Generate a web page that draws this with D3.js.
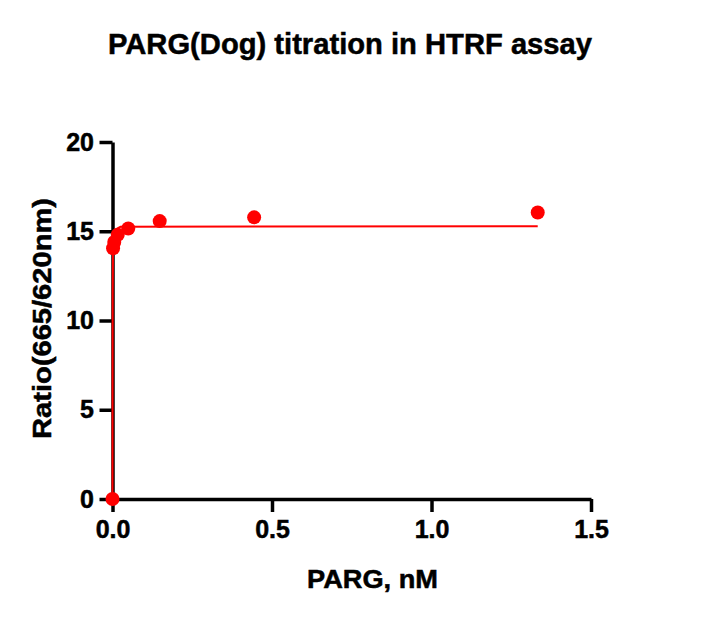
<!DOCTYPE html>
<html>
<head>
<meta charset="utf-8">
<script src="https://cdn.jsdelivr.net/npm/d3@7"></script>
<style>
  body { margin: 0; background: #fff; }
  text { font-family: Arial, "Liberation Sans", sans-serif; font-weight: bold; stroke: #000; stroke-width: 0.5px; }
</style>
</head>
<body>
<div id="chart"></div>
<script>
// measured points, PARG nM vs ratio
var conc = [0, 0.0018, 0.0055, 0.0165, 0.0494, 0.148, 0.444, 1.333];
var ratio = [0, 14.05, 14.4, 14.8, 15.15, 15.57, 15.78, 16.05];

// fitted curve
var fitConc = [0, 0.0002, 0.0006, 0.0015, 0.004, 0.01, 0.025, 1.333];
var fitRatio = [0, 6, 11.5, 13.8, 14.8, 15.1, 15.25, 15.28];

var xTicks = [0, 0.5, 1.0, 1.5];
var yTicks = [0, 5, 10, 15, 20];

var width = 709, height = 622;
var svg = d3.select("#chart").append("svg")
            .attr("width", width)
            .attr("height", height);

var x = d3.scaleLinear().domain([0, 1.5]).range([112.5, 591]);
var y = d3.scaleLinear().domain([0, 20]).range([499, 142]);

// title
svg.append("text")
   .attr("x", 350).attr("y", 54)
   .attr("text-anchor", "middle")
   .attr("textLength", 484)
   .attr("lengthAdjust", "spacingAndGlyphs")
   .style("font-size", "30px")
   .text("PARG(Dog) titration in HTRF assay");

// axes
var xAxis = svg.append("g")
   .attr("transform", "translate(0," + y(0) + ")")
   .call(d3.axisBottom(x).tickValues(xTicks).tickFormat(d3.format(".1f")).tickSize(13).tickSizeOuter(0));
var yAxis = svg.append("g")
   .attr("transform", "translate(" + x(0) + ",0)")
   .call(d3.axisLeft(y).tickValues(yTicks).tickFormat(d3.format("d")).tickSize(13).tickSizeOuter(0));

[xAxis, yAxis].forEach(function(a) {
  a.select(".domain").attr("stroke", "#000").attr("stroke-width", 3.5);
  a.selectAll(".tick line").attr("stroke", "#000").attr("stroke-width", 3.5);
  a.selectAll(".tick text").attr("fill", "#000").style("font-size", "25px");
});
xAxis.selectAll(".tick text").attr("dy", "0.92em");
yAxis.selectAll(".tick text").attr("dx", "-0.1em");

// axis titles
svg.append("text")
   .attr("x", 372.5).attr("y", 588)
   .attr("text-anchor", "middle")
   .attr("textLength", 131)
   .attr("lengthAdjust", "spacingAndGlyphs")
   .style("font-size", "25px")
   .text("PARG, nM");
svg.append("text")
   .attr("transform", "translate(51,318.5) rotate(-90)")
   .attr("text-anchor", "middle")
   .attr("textLength", 241)
   .attr("lengthAdjust", "spacingAndGlyphs")
   .style("font-size", "25px")
   .text("Ratio(665/620nm)");

// fit line
var line = d3.line()
   .x(function(d, i) { return x(fitConc[i]); })
   .y(function(d, i) { return y(fitRatio[i]); });
svg.append("path")
   .datum(fitConc)
   .attr("d", line)
   .attr("fill", "none")
   .attr("stroke", "#ff0000")
   .attr("stroke-width", 2);

// data points
svg.selectAll("circle.pt")
   .data(conc)
   .enter().append("circle")
   .attr("class", "pt")
   .attr("cx", function(d) { return x(d); })
   .attr("cy", function(d, i) { return y(ratio[i]); })
   .attr("r", 7)
   .attr("fill", "#ff0000");
</script>
</body>
</html>
